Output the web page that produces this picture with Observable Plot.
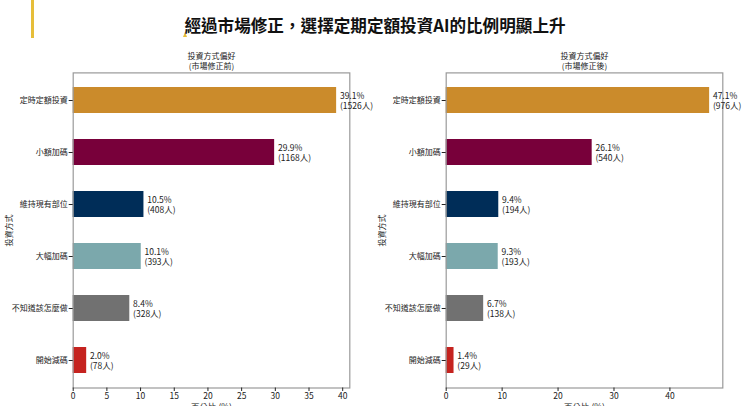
<!DOCTYPE html>
<html><head><meta charset="utf-8">
<script src="https://cdn.jsdelivr.net/npm/d3@7"></script>
<script src="https://cdn.jsdelivr.net/npm/@observablehq/plot@0.6"></script>
<style>
html,body{margin:0;padding:0;width:750px;height:406px;overflow:hidden;background:#fff;font-family:"Noto Sans CJK TC","Noto Sans",sans-serif;}
#wrap{position:relative;width:750px;height:406px;overflow:hidden;}
#accent{position:absolute;left:30.5px;top:0;width:3.2px;height:38px;background:#E6BE3A;}
#mark{position:absolute;left:183px;top:32px;width:0;height:0;border-left:2.5px solid transparent;border-right:2.5px solid transparent;border-bottom:5px solid #E6BE3A;}
#title{position:absolute;left:0;width:750px;top:14px;text-align:center;font-size:16.6px;font-weight:bold;color:#111;line-height:22px;}
.panel{position:absolute;top:0;}
</style></head><body>
<div id="wrap"><div id="accent"></div><div id="mark"></div><div id="title">經過市場修正，選擇定期定額投資AI的比例明顯上升</div><div id="left" class="panel" style="left:0"></div><div id="right" class="panel" style="left:375px"></div></div>
<script>
const categories = ["定時定額投資", "小額加碼", "維持現有部位", "大幅加碼", "不知道該怎麼做", "開始減碼"];
const beforePct = [39.1, 29.9, 10.5, 10.1, 8.4, 2.0];
const beforeCount = [1526, 1168, 408, 393, 328, 78];
const afterPct = [47.1, 26.1, 9.4, 9.3, 6.7, 1.4];
const afterCount = [976, 540, 194, 193, 138, 29];
const barColors = ["#CB8B2B", "#78003A", "#002D58", "#7BA8AC", "#717171", "#C5231F"];
const beforeTitle = "投資方式偏好\n(市場修正前)";
const afterTitle = "投資方式偏好\n(市場修正後)";
const beforeTicks = [0, 5, 10, 15, 20, 25, 30, 35, 40];
const afterTicks = [0, 10, 20, 30, 40];
const yLabel = "投資方式";
const xLabel = "百分比 (%)";

const FONT = '"Noto Sans CJK TC","Noto Sans",sans-serif';

function panel(pcts, counts, title, ticks, ml, mr, ylabX) {
  const data = categories.map((c, i) => ({cat: c, pct: pcts[i], n: counts[i]}));
  const W = 375, H = 420, mt = 72.4, mb = H - 387.5;
  return Plot.plot({
    width: W, height: H,
    marginLeft: ml, marginRight: mr, marginTop: mt, marginBottom: mb,
    style: {fontFamily: FONT, fontSize: "8px", color: "#222", background: "transparent", overflow: "visible"},
    x: {domain: [0, d3.max(pcts) * 1.05], label: null},
    y: {domain: categories, paddingInner: 0.5, paddingOuter: 0.25, label: null},
    color: {domain: categories, range: barColors},
    marks: [
      Plot.barX(data, {x: "pct", y: "cat", fill: "cat"}),
      Plot.frame({stroke: "#9a9a9a", strokeWidth: 1.2}),
      Plot.axisX({ticks, tickSize: 3.5, tickPadding: 1.5, label: null, fontSize: 8.5}),
      Plot.axisY({tickSize: 4, tickPadding: 1.5, label: null, fontSize: 8}),
      Plot.text(data, {x: "pct", y: "cat", text: d => `${d.pct.toFixed(1)}%\n(${d.n}人)`, textAnchor: "start", dx: 3.3, lineHeight: 1.15, fontSize: 8.5, fill: "#222"}),
      Plot.text([title], {frameAnchor: "top", lineAnchor: "middle", textAnchor: "middle", dy: -12, lineHeight: 1.3, fontSize: 8, fill: "#222"}),
      Plot.text([yLabel], {frameAnchor: "left", lineAnchor: "middle", textAnchor: "middle", rotate: -90, dx: ylabX - ml, fontSize: 8, fill: "#222"}),
      Plot.text([xLabel], {frameAnchor: "bottom", lineAnchor: "middle", textAnchor: "middle", dy: 19.5, fontSize: 8.5, fill: "#222"})
    ]
  });
}

document.getElementById("left").appendChild(panel(beforePct, beforeCount, beforeTitle, beforeTicks, 72.7, 375 - 349.3, 9.3));
document.getElementById("right").appendChild(panel(afterPct, afterCount, afterTitle, afterTicks, 70.7, 375 - 347.3, 7.3));
</script>
</body></html>
